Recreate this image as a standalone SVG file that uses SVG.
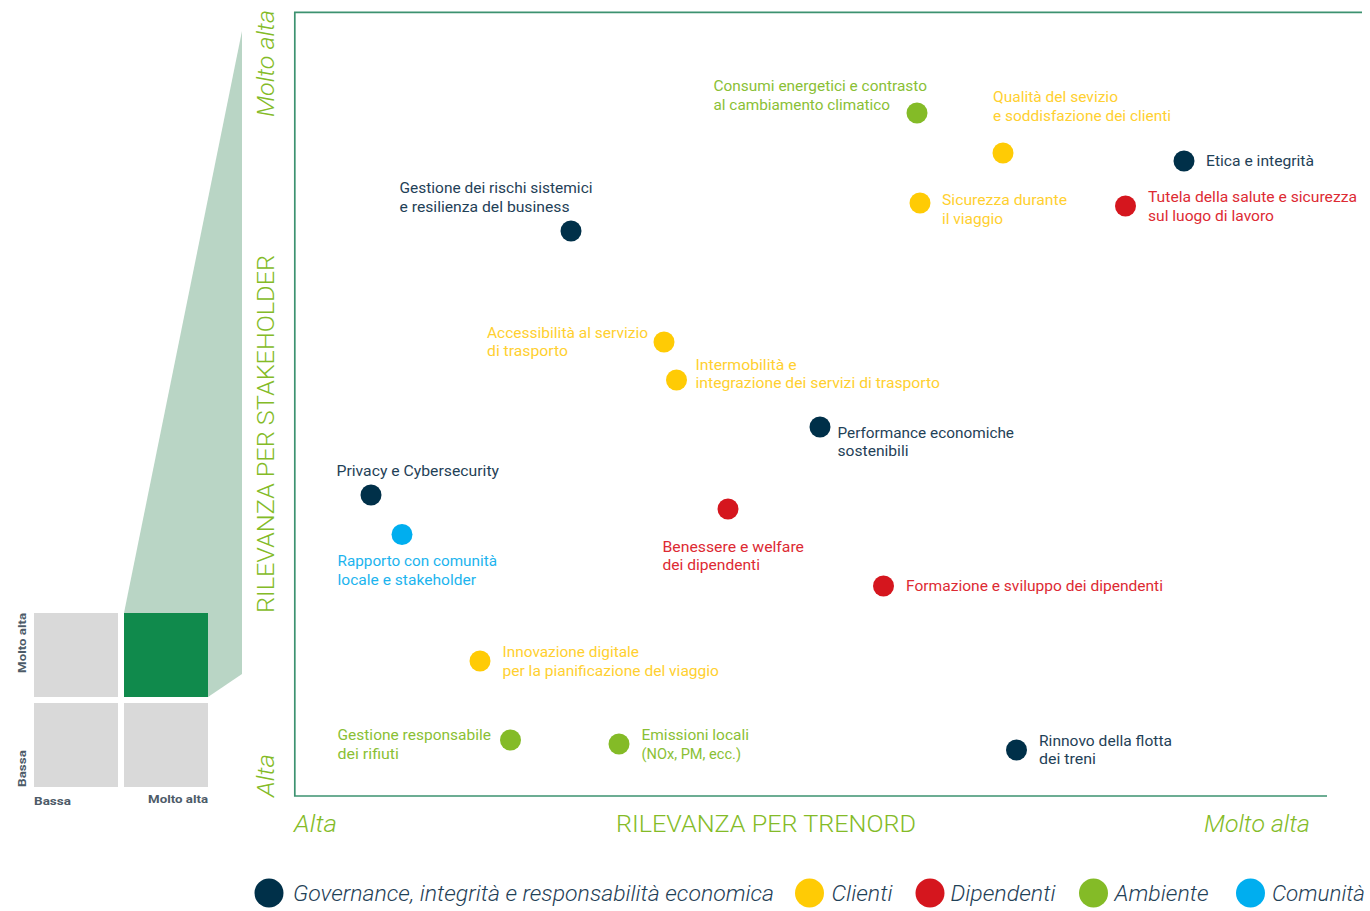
<svg xmlns="http://www.w3.org/2000/svg" width="1370" height="911" viewBox="0 0 1370 911">
<style>
text{font-family:Roboto,"Liberation Sans",sans-serif}
.l{font-size:14.5px}
.n{fill:#003049}.y{fill:#ffcb05}.r{fill:#d5161e}.g{fill:#84bb27}.b{fill:#00aeef}
text.n{fill:#1f4157}text.y{fill:#ffd030}text.r{fill:#dd2a33}text.g{fill:#8abf35}text.b{fill:#1cb4ee}
.ax{font-size:24px;font-weight:300;fill:#84bb27}
.it{font-style:italic}
.lg{font-size:21.5px;font-style:italic;font-weight:300}
.s{font-size:11.5px;font-weight:700;fill:#4d5b68}
.c{fill:#d9d9d9}
</style>
<g id="mini-matrix">
<polygon points="124,613 242,31 242,674 208,697 124,697" fill="#b9d5c5"/>
<rect class="c" x="34" y="613" width="84" height="84"/>
<rect x="124" y="613" width="84" height="84" fill="#108a4c"/>
<rect class="c" x="34" y="703" width="84" height="84"/>
<rect class="c" x="124" y="703" width="84" height="84"/>
<text class="s" x="34" y="804.500" textLength="37" lengthAdjust="spacingAndGlyphs">Bassa</text>
<text class="s" x="148" y="802.500" textLength="60" lengthAdjust="spacingAndGlyphs">Molto alta</text>
<text class="s" transform="translate(26,787) rotate(-90)" textLength="37" lengthAdjust="spacingAndGlyphs">Bassa</text>
<text class="s" transform="translate(26,673) rotate(-90)" textLength="60" lengthAdjust="spacingAndGlyphs">Molto alta</text>
</g>
<g id="connectors" fill="none" stroke="#3d9270" stroke-width="1.700">
<path d="M1362,12.300H294.800V796H1327"/>
</g>
<g id="axis-labels">
<text class="ax it" transform="translate(274,117) rotate(-90)" textLength="107" lengthAdjust="spacingAndGlyphs">Molto alta</text>
<text class="ax" transform="translate(274,613) rotate(-90)" textLength="358" lengthAdjust="spacingAndGlyphs">RILEVANZA PER STAKEHOLDER</text>
<text class="ax it" transform="translate(274,797) rotate(-90)" textLength="43" lengthAdjust="spacingAndGlyphs">Alta</text>
<text class="ax it" x="294" y="832" textLength="43" lengthAdjust="spacingAndGlyphs">Alta</text>
<text class="ax" x="616" y="832" textLength="300" lengthAdjust="spacingAndGlyphs">RILEVANZA PER TRENORD</text>
<text class="ax it" x="1204" y="832" textLength="106" lengthAdjust="spacingAndGlyphs">Molto alta</text>
</g>
<g id="n-consumi"><circle class="g" cx="917" cy="113" r="10.500"/><text class="l g" x="713.500" y="91" textLength="213.500" lengthAdjust="spacingAndGlyphs">Consumi energetici e contrasto</text><text class="l g" x="713.500" y="110" textLength="176.500" lengthAdjust="spacingAndGlyphs">al cambiamento climatico</text></g>
<g id="n-qualita"><circle class="y" cx="1003" cy="153" r="10.500"/><text class="l y" x="993" y="102" textLength="125" lengthAdjust="spacingAndGlyphs">Qualità del sevizio</text><text class="l y" x="993" y="121" textLength="178" lengthAdjust="spacingAndGlyphs">e soddisfazione dei clienti</text></g>
<g id="n-etica"><circle class="n" cx="1184" cy="161" r="10.500"/><text class="l n" x="1206" y="166" textLength="108" lengthAdjust="spacingAndGlyphs">Etica e integrità</text></g>
<g id="n-sicurezza"><circle class="y" cx="920" cy="203" r="10.500"/><text class="l y" x="942" y="205" textLength="125" lengthAdjust="spacingAndGlyphs">Sicurezza durante</text><text class="l y" x="942" y="224" textLength="61" lengthAdjust="spacingAndGlyphs">il viaggio</text></g>
<g id="n-tutela"><circle class="r" cx="1125.500" cy="206" r="10.500"/><text class="l r" x="1148" y="202" textLength="209" lengthAdjust="spacingAndGlyphs">Tutela della salute e sicurezza</text><text class="l r" x="1148" y="221" textLength="126" lengthAdjust="spacingAndGlyphs">sul luogo di lavoro</text></g>
<g id="n-rischi"><circle class="n" cx="571" cy="231" r="10.500"/><text class="l n" x="399.500" y="193" textLength="193" lengthAdjust="spacingAndGlyphs">Gestione dei rischi sistemici</text><text class="l n" x="399.500" y="212" textLength="170" lengthAdjust="spacingAndGlyphs">e resilienza del business</text></g>
<g id="n-accessibilita"><circle class="y" cx="664" cy="342" r="10.500"/><text class="l y" x="487" y="338" textLength="161" lengthAdjust="spacingAndGlyphs">Accessibilità al servizio</text><text class="l y" x="487" y="356" textLength="81" lengthAdjust="spacingAndGlyphs">di trasporto</text></g>
<g id="n-intermobilita"><circle class="y" cx="676.500" cy="380" r="10.500"/><text class="l y" x="695.500" y="370" textLength="101" lengthAdjust="spacingAndGlyphs">Intermobilità e</text><text class="l y" x="695.500" y="388" textLength="244.500" lengthAdjust="spacingAndGlyphs">integrazione dei servizi di trasporto</text></g>
<g id="n-performance"><circle class="n" cx="820" cy="427" r="10.500"/><text class="l n" x="837.500" y="438" textLength="176.500" lengthAdjust="spacingAndGlyphs">Performance economiche</text><text class="l n" x="837.500" y="456" textLength="71" lengthAdjust="spacingAndGlyphs">sostenibili</text></g>
<g id="n-privacy"><circle class="n" cx="371" cy="495" r="10.500"/><text class="l n" x="336.500" y="476" textLength="162.500" lengthAdjust="spacingAndGlyphs">Privacy e Cybersecurity</text></g>
<g id="n-comunita"><circle class="b" cx="402" cy="534.500" r="10.500"/><text class="l b" x="337.500" y="566" textLength="159.500" lengthAdjust="spacingAndGlyphs">Rapporto con comunità</text><text class="l b" x="337.500" y="585" textLength="138.500" lengthAdjust="spacingAndGlyphs">locale e stakeholder</text></g>
<g id="n-benessere"><circle class="r" cx="728" cy="509" r="10.500"/><text class="l r" x="662.500" y="552" textLength="141.500" lengthAdjust="spacingAndGlyphs">Benessere e welfare</text><text class="l r" x="662.500" y="570" textLength="97.500" lengthAdjust="spacingAndGlyphs">dei dipendenti</text></g>
<g id="n-formazione"><circle class="r" cx="883.500" cy="586" r="10.500"/><text class="l r" x="906" y="591" textLength="257" lengthAdjust="spacingAndGlyphs">Formazione e sviluppo dei dipendenti</text></g>
<g id="n-innovazione"><circle class="y" cx="480" cy="661" r="10.500"/><text class="l y" x="502.500" y="657" textLength="136.500" lengthAdjust="spacingAndGlyphs">Innovazione digitale</text><text class="l y" x="502.500" y="676" textLength="216.500" lengthAdjust="spacingAndGlyphs">per la pianificazione del viaggio</text></g>
<g id="n-rifiuti"><circle class="g" cx="510.500" cy="740" r="10.500"/><text class="l g" x="337.500" y="740" textLength="153.500" lengthAdjust="spacingAndGlyphs">Gestione responsabile</text><text class="l g" x="337.500" y="759" textLength="61.500" lengthAdjust="spacingAndGlyphs">dei rifiuti</text></g>
<g id="n-emissioni"><circle class="g" cx="619" cy="744" r="10.500"/><text class="l g" x="641.500" y="740" textLength="107.500" lengthAdjust="spacingAndGlyphs">Emissioni locali</text><text class="l g" x="641.500" y="759" textLength="99.500" lengthAdjust="spacingAndGlyphs">(NOx, PM, ecc.)</text></g>
<g id="n-rinnovo"><circle class="n" cx="1016.500" cy="750" r="10.500"/><text class="l n" x="1039" y="746" textLength="133" lengthAdjust="spacingAndGlyphs">Rinnovo della flotta</text><text class="l n" x="1039" y="764" textLength="57" lengthAdjust="spacingAndGlyphs">dei treni</text></g>
<g id="legend">
<circle class="n" cx="269" cy="893" r="14.500"/><text class="lg n" x="293" y="901" textLength="481" lengthAdjust="spacingAndGlyphs">Governance, integrità e responsabilità economica</text>
<circle class="y" cx="809.500" cy="893" r="14.500"/><text class="lg n" x="831.500" y="901" textLength="61" lengthAdjust="spacingAndGlyphs">Clienti</text>
<circle class="r" cx="930" cy="893" r="14.500"/><text class="lg n" x="950.500" y="901" textLength="105" lengthAdjust="spacingAndGlyphs">Dipendenti</text>
<circle class="g" cx="1093.500" cy="893" r="14.500"/><text class="lg n" x="1114.500" y="901" textLength="94" lengthAdjust="spacingAndGlyphs">Ambiente</text>
<circle class="b" cx="1250.500" cy="893" r="14.500"/><text class="lg n" x="1272" y="901" textLength="93" lengthAdjust="spacingAndGlyphs">Comunità</text>
</g>
</svg>
